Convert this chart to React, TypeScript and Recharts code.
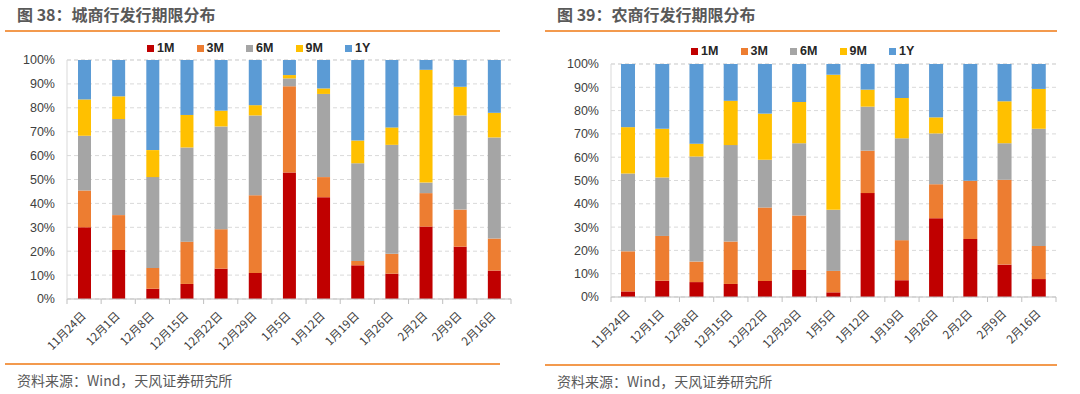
import React from "react"
import { BarChart, Bar, XAxis, YAxis, CartesianGrid } from "recharts"

const dates = ["11月24日", "12月1日", "12月8日", "12月15日", "12月22日", "12月29日", "1月5日", "1月12日", "1月19日", "1月26日", "2月2日", "2月9日", "2月16日"]
const terms = ["1M", "3M", "6M", "9M", "1Y"]
const termColors = ["#C00000", "#ED7D31", "#A5A5A5", "#FFC000", "#5B9BD5"]
const yTicks = [0, 10, 20, 30, 40, 50, 60, 70, 80, 90, 100]

// 城商行
const cityM1 = [30.0, 20.5, 4.3, 6.3, 12.7, 10.9, 52.9, 42.6, 14.1, 10.6, 30.3, 21.9, 11.9]
const cityM3 = [15.4, 14.6, 8.7, 17.7, 16.5, 32.5, 36.1, 8.4, 1.8, 8.3, 14.0, 15.5, 13.4]
const cityM6 = [22.9, 40.2, 38.0, 39.4, 43.0, 33.4, 3.3, 34.8, 40.9, 45.6, 4.4, 39.4, 42.3]
const cityM9 = [15.2, 9.5, 11.3, 13.6, 6.6, 4.3, 1.4, 2.3, 9.5, 7.3, 47.2, 12.0, 10.3]
const cityY1 = [16.5, 15.2, 37.7, 23.0, 21.2, 18.9, 6.3, 11.9, 33.7, 28.2, 4.1, 11.2, 22.1]

// 农商行
const ruralM1 = [2.4, 7.0, 6.4, 5.6, 6.9, 11.6, 2.0, 44.6, 7.2, 33.8, 24.9, 13.9, 7.7]
const ruralM3 = [17.2, 19.2, 8.8, 18.2, 31.5, 23.4, 9.2, 18.2, 17.2, 14.6, 25.0, 36.4, 14.2]
const ruralM6 = [33.4, 25.1, 45.1, 41.4, 20.5, 31.0, 26.2, 18.9, 43.7, 21.8, 0, 15.7, 50.3]
const ruralM9 = [19.9, 20.9, 5.5, 19.0, 19.8, 17.7, 58.0, 7.3, 17.3, 6.9, 0, 18.0, 17.1]
const ruralY1 = [27.1, 27.8, 34.2, 15.8, 21.3, 16.3, 4.6, 11.0, 14.6, 22.9, 50.1, 16.0, 10.7]

const FONT = '"Liberation Sans", Arial, "Noto Sans CJK SC", sans-serif'
const CJK = '"Noto Sans CJK SC", "Liberation Sans", sans-serif'

function buildRows(series: number[][]) {
  return dates.map((d, i) => {
    const row: Record<string, string | number> = { date: d }
    terms.forEach((t, k) => {
      row[t] = series[k][i]
    })
    return row
  })
}

function DateTick(props: any) {
  const { x, y, payload, index } = props
  const half = payload?.offset ?? 17
  const last = index === dates.length - 1
  const ax = x + 2.5
  const ay = y + 17.5
  return (
    <g>
      <line x1={x - half} y1={y} x2={x - half} y2={y + 5} stroke="#bfbfbf" />
      {last && <line x1={x + half} y1={y} x2={x + half} y2={y + 5} stroke="#bfbfbf" />}
      <text
        x={ax}
        y={ay}
        transform={`rotate(-45 ${ax} ${ay})`}
        textAnchor="end"
        fontSize={11.5}
        fill="#404040"
        fontFamily={CJK}
      >
        {payload.value}
      </text>
    </g>
  )
}

interface PanelProps {
  left: number
  title: string
  series: number[][]
  lineWidth: number
  marginTop: number
  marginLeft: number
  marginRight: number
  marginBottom: number
  barSize: number
  legendX: number
  legendY: number
  footerY: number
}

function Panel(p: PanelProps) {
  const rows = buildRows(p.series)
  return (
    <>
      {/* Title */}
      <div
        style={{
          position: "absolute",
          left: p.left + 17,
          top: 4,
          fontSize: 16,
          lineHeight: "20px",
          fontWeight: 700,
          color: "#595959",
          fontFamily: CJK,
          whiteSpace: "nowrap",
        }}
      >
        {p.title}
      </div>
      <div style={{ position: "absolute", left: p.left + 5, top: 30, width: p.lineWidth, height: 1.5, background: "#F39A4E" }} />

      {/* Legend */}
      {terms.map((t, k) => (
        <div
          key={t}
          style={{
            position: "absolute",
            left: p.left + p.legendX + k * 49.5,
            top: p.legendY - 8,
            height: 16,
            display: "flex",
            alignItems: "center",
            gap: 3,
            fontSize: 12.5,
            fontWeight: 700,
            color: "#262626",
            fontFamily: FONT,
          }}
        >
          <span style={{ width: 7, height: 7, background: termColors[k], display: "inline-block" }} />
          {t}
        </div>
      ))}

      {/* Chart */}
      <div style={{ position: "absolute", left: p.left, top: 30 }}>
        <BarChart
          width={540}
          height={330}
          data={rows}
          margin={{ top: p.marginTop, right: p.marginRight, left: 0, bottom: p.marginBottom }}
          barSize={p.barSize}
        >
          <CartesianGrid vertical={false} stroke="#d9d9d9" strokeDasharray="4 3" />
          <XAxis
            dataKey="date"
            interval={0}
            height={61}
            tickSize={0}
            tickMargin={0}
            tickLine={false}
            axisLine={{ stroke: "#bfbfbf" }}
            tick={<DateTick />}
          />
          <YAxis
            width={p.marginLeft}
            domain={[0, 100]}
            ticks={yTicks}
            tickFormatter={(v: number) => `${v}%`}
            tickLine={false}
            tickSize={0}
            tickMargin={12}
            axisLine={{ stroke: "#d9d9d9" }}
            tick={{ fill: "#404040", fontSize: 12.5, fontFamily: FONT }}
          />
          {terms.map((t, k) => (
            <Bar key={t} dataKey={t} stackId="a" fill={termColors[k]} isAnimationActive={false} />
          ))}
        </BarChart>
      </div>

      {/* Footer */}
      <div style={{ position: "absolute", left: p.left + 5, top: p.footerY, width: p.lineWidth, height: 1.5, background: "#F39A4E" }} />
      <div
        style={{
          position: "absolute",
          left: p.left + 17,
          top: p.footerY + 8,
          fontSize: 14,
          lineHeight: "18px",
          color: "#595959",
          fontFamily: CJK,
          whiteSpace: "nowrap",
        }}
      >
        资料来源：Wind，天风证券研究所
      </div>
    </>
  )
}

export default function App() {
  return (
    <div style={{ position: "absolute", left: 0, top: 0, width: 1080, height: 394, background: "#fff", overflow: "hidden" }}>
      <Panel
        left={0}
        title="图 38：城商行发行期限分布"
        series={[cityM1, cityM3, cityM6, cityM9, cityY1]}
        lineWidth={495}
        marginTop={30}
        marginLeft={67}
        marginRight={29}
        marginBottom={0}
        barSize={13}
        legendX={147}
        legendY={48}
        footerY={363}
      />
      <Panel
        left={540}
        title="图 39：农商行发行期限分布"
        series={[ruralM1, ruralM3, ruralM6, ruralM9, ruralY1]}
        lineWidth={512}
        marginTop={34}
        marginLeft={71}
        marginRight={24}
        marginBottom={2}
        barSize={14}
        legendX={151}
        legendY={51}
        footerY={364}
      />
    </div>
  )
}
